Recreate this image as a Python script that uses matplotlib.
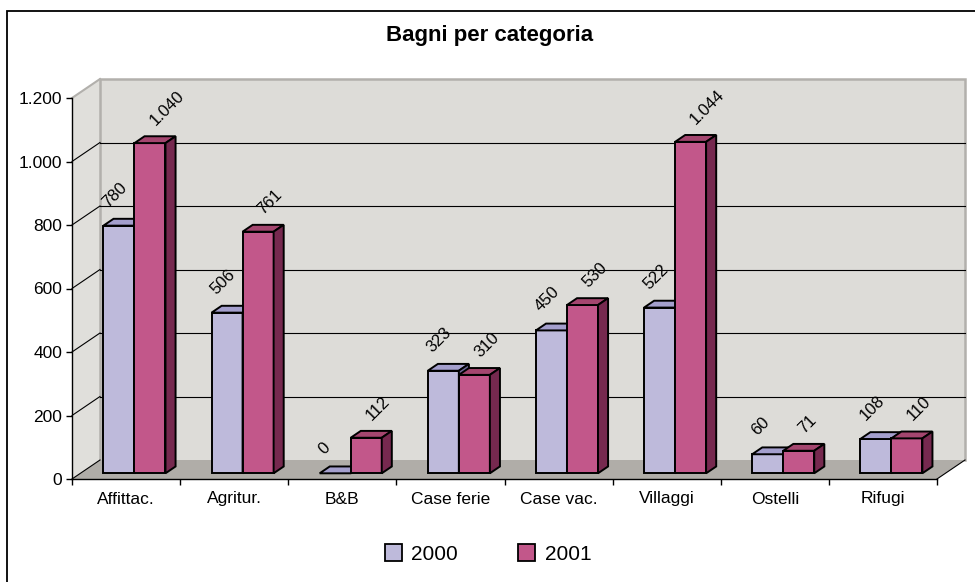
import numpy as np
import matplotlib
matplotlib.use('Agg')
import matplotlib.pyplot as plt
from matplotlib.patches import Polygon, Rectangle, Patch
from matplotlib.ticker import FuncFormatter, FixedLocator

plt.rcParams['font.family'] = ['Liberation Sans', 'DejaVu Sans']

categories = ['Affittac.', 'Agritur.', 'B&B', 'Case ferie', 'Case vac.',
              'Villaggi', 'Ostelli', 'Rifugi']
series = ['2000', '2001']
values_2000 = [780, 506, 0, 323, 450, 522, 60, 108]
values_2001 = [1040, 761, 112, 310, 530, 1044, 71, 110]
y_ticks = [0, 200, 400, 600, 800, 1000, 1200]

# colours: front, top, side
colors = {
    '2000': ('#BEBADB', '#A49FCD', '#6F6A9A'),
    '2001': ('#C2578A', '#A4466F', '#76294F'),
}
wall_c = '#DDDCD8'
side_wall_c = '#E0DFDB'
floor_c = '#B0ADA8'
edge_gray = '#B2B0AC'

W, H = 975, 582
fig = plt.figure(figsize=(W / 100, H / 100), dpi=100)

# front axis box in pixels: x 72..937, y 479 (0) .. 98 (1200)
ax = fig.add_axes([72 / W, (H - 479) / H, 865 / W, 381 / H])
ax.set_xlim(0, len(categories))
ax.set_ylim(0, 1200)
ax.patch.set_visible(False)

# depth of the 3d box, in data units (28 px right, 19 px up)
DX = 28 / (865 / 8)
DY = 19 / (381 / 1200)
n = len(categories)
top = y_ticks[-1]

def fmt(v, pos=None):
    return f"{v:,.0f}".replace(',', '.')

# walls and floor
ax.add_patch(Polygon([(0, 0), (DX, DY), (DX, top + DY), (0, top)],
                     closed=True, fc=side_wall_c, ec='none', clip_on=False, zorder=0))
ax.add_patch(Polygon([(DX, DY), (n + DX, DY), (n + DX, top + DY), (DX, top + DY)],
                     closed=True, fc=wall_c, ec='none', clip_on=False, zorder=0))
ax.add_patch(Polygon([(0, 0), (n, 0), (n + DX, DY), (DX, DY)],
                     closed=True, fc=floor_c, ec='none', clip_on=False, zorder=0.5))

# wall edges
ax.plot([DX, DX, n + DX, n + DX], [DY, top + DY, top + DY, DY],
        color=edge_gray, lw=1.8, clip_on=False, zorder=0.6, solid_joinstyle='miter')
ax.plot([0, DX], [top, top + DY], color=edge_gray, lw=1.5, clip_on=False, zorder=0.6)
ax.plot([n, n + DX], [0, DY], color='black', lw=0.8, clip_on=False, zorder=0.6)

# gridlines on the back wall and side wall
for v in y_ticks[:-1]:
    ax.plot([0, DX], [v, v + DY], color='black', lw=0.8, clip_on=False, zorder=0.7)
    if v > 0:
        ax.plot([DX, n + DX], [v + DY, v + DY], color='black', lw=0.8,
                clip_on=False, zorder=0.7)

# bars
w = 0.287
f0, f1 = 0.3, 0.66
label_off = {'2000': (5, -18), '2001': (21, -17)}   # px from front-top-left

def draw_bar(x0, v, cols):
    fx, fy = f0 * DX, f0 * DY
    bx, by = f1 * DX, f1 * DY
    kw = dict(closed=True, ec='black', lw=1.4, joinstyle='miter', clip_on=False, zorder=2)
    ax.add_patch(Polygon([(x0 + fx, fy), (x0 + w + fx, fy),
                          (x0 + w + fx, v + fy), (x0 + fx, v + fy)], fc=cols[0], **kw))
    ax.add_patch(Polygon([(x0 + fx, v + fy), (x0 + w + fx, v + fy),
                          (x0 + w + bx, v + by), (x0 + bx, v + by)], fc=cols[1], **kw))
    ax.add_patch(Polygon([(x0 + w + fx, fy), (x0 + w + bx, by),
                          (x0 + w + bx, v + by), (x0 + w + fx, v + fy)], fc=cols[2], **kw))

for i in range(n):
    for j, (name, vals) in enumerate(zip(series, [values_2000, values_2001])):
        x0 = i + 0.5 - w + j * w
        v = vals[i]
        draw_bar(x0, v, colors[name])
        ox, oy = label_off[name]
        ax.annotate(fmt(v), (x0 + f0 * DX, v + f0 * DY),
                    xytext=(ox * 0.72, -oy * 0.72), textcoords='offset points',
                    ha='left', va='baseline', rotation=45, rotation_mode='anchor',
                    fontsize=12, color='black', zorder=5, annotation_clip=False)

# axes
for s in ['top', 'right']:
    ax.spines[s].set_visible(False)
for s in ['left', 'bottom']:
    ax.spines[s].set_linewidth(1.0)
    ax.spines[s].set_zorder(3)
ax.set_yticks(y_ticks)
ax.yaxis.set_major_formatter(FuncFormatter(fmt))
ax.tick_params(axis='y', length=4, width=1.0, pad=3, labelsize=12.5)
ax.xaxis.set_major_locator(FixedLocator(np.arange(n + 1)))
ax.xaxis.set_minor_locator(FixedLocator(np.arange(n) + 0.5))
ax.set_xticklabels([], minor=False)
ax.set_xticklabels(categories, minor=True)
ax.tick_params(axis='x', which='major', length=4.5, width=1.0)
ax.tick_params(axis='x', which='minor', length=0, pad=9, labelsize=12.5)

# title
fig.text(490 / W, 1 - 35.5 / H, 'Bagni per categoria', ha='center', va='center',
         fontsize=16, fontweight='bold')

# legend
handles = [Patch(fc=colors[s][0], ec='black', lw=1.3) for s in series]
fig.legend(handles, series, loc='center', bbox_to_anchor=(488 / W, 1 - 554 / H),
           ncol=2, frameon=False, fontsize=15, handlelength=0.82, handleheight=0.82,
           handletextpad=0.45, columnspacing=2.9)

# outer chart frame (cut at right and bottom)
fig.add_artist(Rectangle((7 / W, -0.1), 2, 1 - 11 / H + 0.1, transform=fig.transFigure,
                         fill=False, ec='black', lw=1.3))

fig.savefig('out.png', dpi=100)
